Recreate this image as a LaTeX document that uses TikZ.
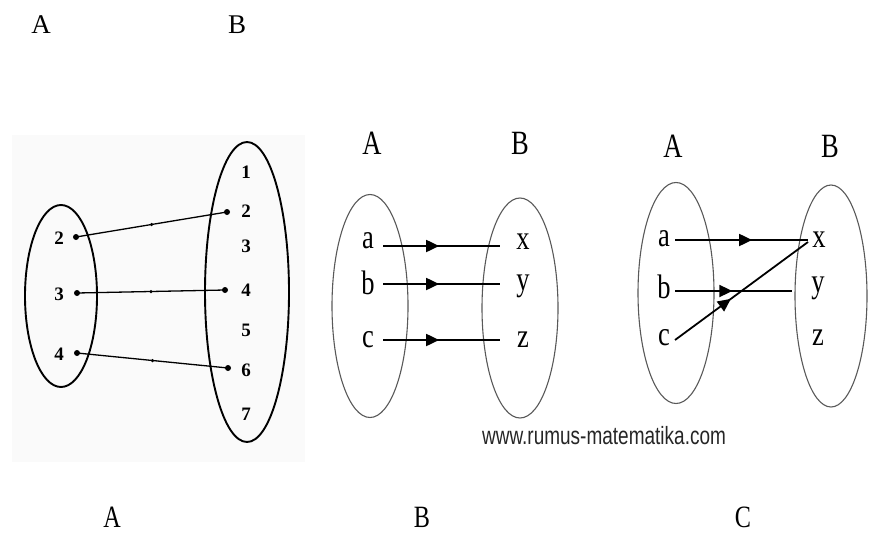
\documentclass[tikz,border=0pt]{standalone}
\usepackage{fontspec}
\setmainfont{Liberation Serif}
\newfontfamily\condserif[FakeStretch=0.78]{Liberation Serif}
\newfontfamily\wmfont[FakeStretch=0.76]{Liberation Sans}
\usetikzlibrary{arrows.meta,decorations.markings,shapes.geometric}
\begin{document}
\begin{tikzpicture}[x=1pt,y=-1pt,
  toplbl/.style={font=\fontsize{27}{27}\selectfont, inner sep=0},
  botlbl/.style={font=\condserif\fontsize{31}{31}\selectfont, inner sep=0, anchor=base},
  num/.style={font=\bfseries\fontsize{19}{19}\selectfont, inner sep=0},
  letr/.style={font=\condserif\fontsize{34}{34}\selectfont, inner sep=0},
  setell/.style={draw, ellipse, inner sep=0},
  dotn/.style={circle, fill=black, inner sep=0, minimum size=6pt},
  smalldot/.style={circle, fill=black, inner sep=0, minimum size=3.5pt},
  mapline/.style={line width=1.3pt},
  arr/.style={line width=1.8pt, postaction={decorate},
    decoration={markings, mark=at position #1 with {\arrow{Triangle[length=13pt,width=12pt]}}}},
]
\useasboundingbox (0,0) rectangle (882,532);
\fill[black!2] (12,135) rectangle (305,462);

% top labels
\node[toplbl] (tA) at (41,25) {A};
\node[toplbl] (tB) at (237,25) {B};

% bottom labels
\node[botlbl] (bA) at (112,527) {A};
\node[botlbl] (bB) at (422,527) {B};
\node[botlbl] (bC) at (743,527) {C};

% ---------- diagram 1 ----------
\node[setell, line width=1.9pt, minimum width=72, minimum height=182] (E1L) at (61,296) {};
\node[setell, line width=1.9pt, minimum width=84, minimum height=300] (E1R) at (247,292) {};
\node[num] (n2) at (59,238) {2};
\node[num] (n3) at (59,294) {3};
\node[num] (n4) at (59,354) {4};
\node[num] (m1) at (246,172) {1};
\node[num] (m2) at (246,211) {2};
\node[num] (m3) at (246,246) {3};
\node[num] (m4) at (246,290) {4};
\node[num] (m5) at (246,330) {5};
\node[num] (m6) at (246,370) {6};
\node[num] (m7) at (246,414) {7};
\node[dotn] (d2) at (76,237) {};
\node[dotn] (d3) at (77,293) {};
\node[dotn] (d4) at (77,353) {};
\node[dotn] (e2) at (227,212) {};
\node[dotn] (e4) at (225,290) {};
\node[dotn] (e6) at (228,368) {};
\draw[mapline] (d2.center) -- node[smalldot]{} (e2.center);
\draw[mapline] (d3.center) -- node[smalldot]{} (e4.center);
\draw[mapline] (d4.center) -- node[smalldot]{} (e6.center);

% ---------- diagram 2 ----------
\node[letr] (pA) at (372,143) {A};
\node[letr] (pB) at (520,143) {B};
\node[setell, draw=black!65, line width=1.1pt, minimum width=76, minimum height=223] (E2L) at (370,306) {};
\node[setell, draw=black!65, line width=1.1pt, minimum width=76, minimum height=220] (E2R) at (520,308) {};
\node[letr] (pa) at (368,241) {a};
\node[letr] (pb) at (368,283) {b};
\node[letr] (pc) at (368,340) {c};
\node[letr] (px) at (523,242) {x};
\node[letr] (py) at (523,286) {y};
\node[letr] (pz) at (523,340) {z};
\coordinate (pa0) at (383,246); \coordinate (pa1) at (500,246);
\coordinate (pb0) at (383,284); \coordinate (pb1) at (500,284);
\coordinate (pc0) at (383,340); \coordinate (pc1) at (500,340);
\draw[arr=0.48] (pa0) -- (pa1);
\draw[arr=0.48] (pb0) -- (pb1);
\draw[arr=0.48] (pc0) -- (pc1);

% ---------- diagram 3 ----------
\node[letr] (qA) at (673,146) {A};
\node[letr] (qB) at (830,146) {B};
\node[setell, draw=black!65, line width=1.1pt, minimum width=76, minimum height=221] (E3L) at (676,293) {};
\node[setell, draw=black!65, line width=1.1pt, minimum width=72, minimum height=222] (E3R) at (831,296) {};
\node[letr] (qa) at (664,239) {a};
\node[letr] (qb) at (664,287) {b};
\node[letr] (qc) at (664,338) {c};
\node[letr] (qx) at (819,240) {x};
\node[letr] (qy) at (818,288) {y};
\node[letr] (qz) at (818,338) {z};
\coordinate (qa0) at (675,240); \coordinate (qa1) at (808,240);
\coordinate (qb0) at (675,291); \coordinate (qb1) at (792,291);
\coordinate (qc0) at (675,340); \coordinate (qc1) at (808,242);
\draw[arr=0.58] (qa0) -- (qa1);
\draw[arr=0.49] (qb0) -- (qb1);
\draw[arr=0.42] (qc0) -- (qc1);

% watermark
\node[font=\wmfont\fontsize{25}{25}\selectfont, text=black!85, inner sep=0] (wm) at (604,436) {www.rumus-matematika.com};
\end{tikzpicture}
\end{document}
